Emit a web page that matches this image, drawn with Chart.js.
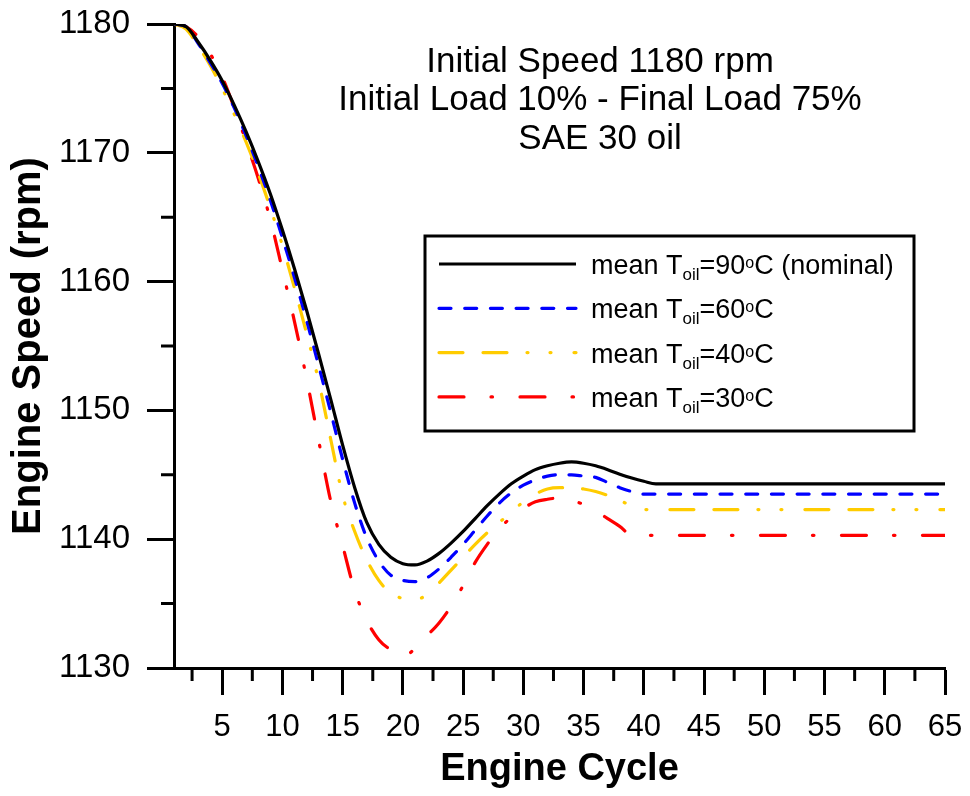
<!DOCTYPE html>
<html>
<head>
<meta charset="utf-8">
<title>Engine Speed vs Engine Cycle</title>
<script src="https://cdn.jsdelivr.net/npm/chart.js@4.4.1/dist/chart.umd.min.js"></script>
<style>
  html, body { margin: 0; padding: 0; background: #fff; }
  #wrap { width: 970px; height: 796px; }
</style>
</head>
<body>
<div id="wrap"><canvas id="chartSpeed" width="970" height="796"></canvas></div>
<script>
// engine cycles (speed stays constant from cycle 41 to the end)
const cycles = [1, 2, 3, 4, 5, 6, 7, 8, 9, 10, 11, 12, 13, 14, 15, 16, 17, 18, 19, 20,
  21, 22, 23, 24, 25, 26, 27, 28, 29, 30, 31, 32, 33, 34, 35, 36, 37, 38, 39, 40, 41, 65];

// engine speed (rpm) for each mean oil temperature
const speed90 = [1180.0, 1179.8, 1178.6, 1177.2, 1175.6, 1173.7, 1171.6, 1169.3, 1166.8, 1164.0,
  1161.0, 1157.8, 1154.4, 1150.9, 1147.3, 1144.0, 1141.3, 1139.6, 1138.6, 1138.1,
  1138.0, 1138.3, 1138.9, 1139.7, 1140.6, 1141.6, 1142.6, 1143.5, 1144.3, 1144.9,
  1145.4, 1145.7, 1145.9, 1146.0, 1145.9, 1145.7, 1145.4, 1145.05, 1144.75, 1144.5, 1144.3, 1144.3];
const speed60 = [1180.0, 1179.8, 1178.5, 1177.0, 1175.4, 1173.5, 1171.3, 1168.9, 1166.3, 1163.4,
  1160.3, 1157.0, 1153.5, 1149.9, 1146.2, 1142.8, 1140.1, 1138.3, 1137.2, 1136.8,
  1136.7, 1137.0, 1137.7, 1138.6, 1139.6, 1140.7, 1141.8, 1142.8, 1143.6, 1144.2,
  1144.6, 1144.9, 1145.0, 1145.0, 1144.9, 1144.8, 1144.4, 1144.0, 1143.7, 1143.5, 1143.5, 1143.5];
const speed40 = [1180.0, 1179.6, 1178.3, 1176.8, 1175.0, 1173.0, 1170.8, 1168.4, 1165.7, 1162.8,
  1159.5, 1156.0, 1152.3, 1147.8, 1143.4, 1140.6, 1138.4, 1136.8, 1135.8, 1135.4,
  1135.3, 1135.7, 1136.6, 1137.6, 1138.6, 1139.6, 1140.5, 1141.3, 1142.1, 1142.9,
  1143.5, 1143.9, 1144.0, 1144.0, 1143.9, 1143.7, 1143.4, 1143.0, 1142.6, 1142.3, 1142.3, 1142.3];
const speed30 = [1180.0, 1179.8, 1179.0, 1177.7, 1175.9, 1173.5, 1170.8, 1168.0, 1164.8, 1160.9,
  1156.9, 1152.5, 1147.7, 1143.0, 1139.5, 1136.0, 1133.7, 1132.2, 1131.4, 1130.9,
  1131.5, 1132.5, 1133.5, 1134.8, 1136.4, 1138.2, 1139.6, 1140.8, 1141.7, 1142.4,
  1142.9, 1143.1, 1143.2, 1143.0, 1142.7, 1142.2, 1141.6, 1141.0, 1140.3, 1140.3, 1140.3, 1140.3];

const oilTemps = ['90', '60', '40', '30'];
const legendTails = [' (nominal)', '', '', ''];

const xTickValues = [5, 10, 15, 20, 25, 30, 35, 40, 45, 50, 55, 60, 65];
const xMinorTicks = [2.5, 7.5, 12.5, 17.5, 22.5, 27.5, 32.5, 37.5, 42.5, 47.5, 52.5, 57.5, 62.5];
const yTickValues = [1130, 1140, 1150, 1160, 1170, 1180];
const yMinorTicks = [1135, 1145, 1155, 1165, 1175];

const noteLines = ['Initial Speed 1180 rpm', 'Initial Load 10% - Final Load 75%', 'SAE 30 oil'];

const FONT = '"Liberation Sans", Arial, Helvetica, sans-serif';
Chart.defaults.font.family = FONT;
Chart.defaults.color = '#000';

function makeSet(label, values, color, dash) {
  return {
    label: label,
    data: values.map((v, i) => ({ x: cycles[i], y: v })),
    borderColor: color,
    borderWidth: 3.2,
    borderDash: dash,
    borderCapStyle: dash.length ? 'round' : 'butt',
    pointRadius: 0,
    fill: false,
    cubicInterpolationMode: 'monotone'
  };
}

// minor ticks, note text and the legend box with sub/superscripts
const extras = {
  id: 'extras',
  afterDraw(chart) {
    const ctx = chart.ctx;
    const xs = chart.scales.x, ys = chart.scales.y;
    const area = chart.chartArea;
    ctx.save();

    ctx.strokeStyle = '#000';
    ctx.lineWidth = 3;
    ctx.beginPath();
    xMinorTicks.forEach(v => {
      const px = xs.getPixelForValue(v);
      ctx.moveTo(px, area.bottom);
      ctx.lineTo(px, area.bottom + 13);
    });
    yMinorTicks.forEach(v => {
      const py = ys.getPixelForValue(v);
      ctx.moveTo(area.left - 13, py);
      ctx.lineTo(area.left, py);
    });
    ctx.stroke();

    ctx.fillStyle = '#000';
    ctx.font = '35px ' + FONT;
    ctx.textAlign = 'center';
    ctx.textBaseline = 'alphabetic';
    noteLines.forEach((t, i) => ctx.fillText(t, 600, 72 + i * 38.3));

    // legend
    const bx = 425, by = 236, bw = 489, bh = 195;
    ctx.fillStyle = '#fff';
    ctx.fillRect(bx, by, bw, bh);
    ctx.lineWidth = 3;
    ctx.strokeStyle = '#000';
    ctx.strokeRect(bx, by, bw, bh);

    ctx.textAlign = 'left';
    chart.data.datasets.forEach((ds, i) => {
      const ly = 264 + i * 44.3;
      ctx.save();
      ctx.strokeStyle = ds.borderColor;
      ctx.lineWidth = ds.borderWidth;
      ctx.lineCap = ds.borderCapStyle;
      ctx.setLineDash(ds.borderDash);
      ctx.beginPath();
      ctx.moveTo(439, ly);
      ctx.lineTo(576, ly);
      ctx.stroke();
      ctx.restore();

      const base = ly + 10;
      let tx = 591;
      ctx.fillStyle = '#000';
      ctx.font = '27px ' + FONT;
      ctx.fillText('mean T', tx, base);
      tx += ctx.measureText('mean T').width;
      ctx.font = '17px ' + FONT;
      ctx.fillText('oil', tx, base + 6);
      tx += ctx.measureText('oil').width;
      ctx.font = '27px ' + FONT;
      const mid = '=' + oilTemps[i];
      ctx.fillText(mid, tx, base);
      tx += ctx.measureText(mid).width;
      ctx.font = '16px ' + FONT;
      ctx.fillText('o', tx, base - 6);
      tx += ctx.measureText('o').width;
      ctx.font = '27px ' + FONT;
      ctx.fillText('C' + legendTails[i], tx, base);
    });
    ctx.restore();
  }
};

const ctx = document.getElementById('chartSpeed').getContext('2d');
new Chart(ctx, {
  type: 'line',
  data: {
    datasets: [
      makeSet('mean Toil=90oC (nominal)', speed90, '#000000', []),
      makeSet('mean Toil=60oC', speed60, '#0000ff', [12, 13.7]),
      makeSet('mean Toil=40oC', speed40, '#ffcc00', [24, 20, 24, 20, 1, 22, 1, 23]),
      makeSet('mean Toil=30oC', speed30, '#ff0000', [25, 27, 1.5, 27.5])
    ]
  },
  options: {
    responsive: false,
    animation: false,
    devicePixelRatio: 1,
    layout: { padding: { left: 0, right: 25, top: 24, bottom: 0 } },
    plugins: {
      legend: { display: false },
      tooltip: { enabled: false }
    },
    scales: {
      x: {
        type: 'linear',
        min: 1,
        max: 65,
        afterBuildTicks: s => { s.ticks = xTickValues.map(v => ({ value: v })); },
        afterFit: s => { s.height = 128; s.paddingLeft = 0; s.paddingRight = 0; },
        ticks: { font: { size: 31 }, color: '#000', padding: 14, maxRotation: 0, autoSkip: false,
          callback: v => String(v) },
        grid: { display: true, drawOnChartArea: false, drawTicks: true, tickLength: 27, tickWidth: 3, tickColor: '#000' },
        border: { display: true, color: '#000', width: 3 },
        title: { display: true, text: 'Engine Cycle', color: '#000', font: { size: 38, weight: 'bold' }, padding: { top: 0, bottom: 4 } }
      },
      y: {
        min: 1130,
        max: 1180,
        afterBuildTicks: s => { s.ticks = yTickValues.map(v => ({ value: v })); },
        afterFit: s => { s.width = 174; s.paddingTop = 0; s.paddingBottom = 0; },
        ticks: { font: { size: 33 }, color: '#000', padding: 17, callback: v => String(v) },
        grid: { display: true, drawOnChartArea: false, drawTicks: true, tickLength: 27, tickWidth: 3, tickColor: '#000' },
        border: { display: true, color: '#000', width: 3 },
        title: { display: true, text: 'Engine Speed (rpm)', color: '#000', font: { size: 40, weight: 'bold' }, padding: { top: 5, bottom: 0 } }
      }
    }
  },
  plugins: [extras]
});
</script>
</body>
</html>
